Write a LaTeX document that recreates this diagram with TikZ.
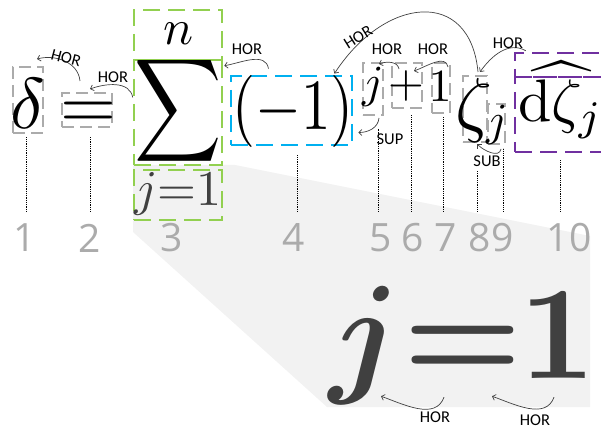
\documentclass[tikz,border=0pt]{standalone}
\RequirePackage{amsmath}
\RequirePackage{graphicx}
\RequirePackage{fontspec}
\RequirePackage{tikz}
\usetikzlibrary{arrows.meta}

\newfontfamily\tagfont{Carlito}
\newfontfamily\idxfont{Open Sans}

\definecolor{sumgreen}{HTML}{92D050}
\definecolor{parblue}{HTML}{00B0F0}
\definecolor{hatpurple}{HTML}{7030A0}
\definecolor{boxgray}{HTML}{ABABAB}
\definecolor{idxgray}{HTML}{ABABAB}
\definecolor{relgray}{HTML}{404040}
\definecolor{wedgegray}{HTML}{F2F2F2}

% math set at 10pt and blown up
\newcommand\mainsym[1]{\scalebox{7.2}{$#1$}}
\newcommand\limsym[1]{\scalebox{5.0}{$#1$}}
\newcommand\supsym[1]{\scalebox{4.6}{$#1$}}
\newcommand\hatsym[1]{\scalebox{6.0}{$#1$}}
\newcommand\zoomsym[1]{\scalebox{13.3}{\boldmath$#1$}}

\begin{document}
\begin{tikzpicture}[x=1pt, y=-1pt,
        >={Straight Barb[length=3pt,width=6pt]},
        glyph/.style={inner sep=0pt, anchor=base},
        gbox/.style={draw=sumgreen, line width=2.5pt, dash pattern=on 17pt off 8pt, inner sep=0pt},
        bbox/.style={gbox, draw=parblue, line width=2.8pt},
        pbox/.style={gbox, draw=hatpurple},
        sbox/.style={gbox, draw=boxgray, line width=2pt, dash pattern=on 12pt off 6pt},
        rel/.style={->, draw=relgray, line width=0.7pt},
        tag/.style={font=\tagfont\fontsize{16.5}{16.5}\selectfont, inner sep=0pt},
        idx/.style={font=\idxfont\fontsize{39}{39}\selectfont, text=idxgray, inner sep=0pt},
        guide/.style={densely dotted, line width=0.8pt}]
        \useasboundingbox (0,0) rectangle (601,430);
        \clip (0,0) rectangle (601,430);

        % wedge behind the enlarged lower limit
        \fill[wedgegray] (133,165) -- (235,165) -- (590,236) -- (590,407) -- (327,407) -- (133,232) -- cycle;

        % boxes round the symbols
        \node[sbox, minimum width=30pt, minimum height=66pt] (delta) at (28,100) {};
        \node[sbox, minimum width=50pt, minimum height=34pt] (eq) at (87,110) {};
        \node[gbox, minimum width=88pt, minimum height=50pt] (upper) at (178,35) {};
        \node[gbox, minimum width=88pt, minimum height=105pt] (sum) at (178,112.5) {};
        \node[gbox, minimum width=88pt, minimum height=50pt] (lower) at (178,195) {};
        \node[bbox, minimum width=121pt, minimum height=69pt] (blue) at (291.5,110.5) {};
        \node[sbox, minimum width=20pt, minimum height=52pt] (supj) at (373,89) {};
        \node[sbox, minimum width=30pt, minimum height=45pt] (plus) at (407,85.5) {};
        \node[sbox, minimum width=18pt, minimum height=50pt] (one) at (441,88) {};
        \node[sbox, minimum width=24pt, minimum height=66pt] (zeta) at (475,109) {};
        \node[sbox, minimum width=17pt, minimum height=40pt] (subj) at (496.5,124) {};
        \node[pbox, minimum width=130pt, minimum height=24pt] (phat) at (580,65) {};
        \node[pbox, minimum width=130pt, minimum height=75pt] (pbody) at (580,114.5) {};

        % the formula
        \node[glyph] (gdelta) at (28,129) {\mainsym{\delta}};
        \node[glyph] (geq) at (88,129) {\mainsym{=}};
        \node[glyph] (gsum) at (178,129) {\scalebox{6.05}[7.2]{$\displaystyle\sum$}};
        \node[glyph] (gn) at (179,45) {\limsym{n}};
        \node[glyph, text=relgray] (glow) at (178,205) {\limsym{j{=}1}};
        \node[glyph] (gpar) at (293,130) {\scalebox{5.9}[7.2]{$(-1)$}};
        \node[glyph] (gsupj) at (373,98) {\supsym{j}};
        \node[glyph] (gplus) at (406,98) {\supsym{+}};
        \node[glyph] (gone) at (440,102) {\supsym{1}};
        \node[glyph] (gzeta) at (474,129) {\mainsym{\zeta}};
        \node[glyph] (gsubj) at (497,136) {\supsym{j}};
        \node[glyph] (gdz) at (561,122) {\hatsym{\widehat{\mathrm{d}\zeta_j}}};

        % enlarged lower limit
        \node[glyph, text=relgray] (bigj) at (365,378) {\zoomsym{j}};
        \node[glyph, text=relgray] (bigeq) at (463,378) {\zoomsym{=}};
        \node[glyph, text=relgray] (bigone) at (558,378) {\zoomsym{1}};

        % relations
        \draw[rel] ([xshift=-7pt,yshift=11pt]eq.north) to[out=95,in=15] ([xshift=9pt,yshift=7pt]delta.north);
        \draw[rel] ([yshift=15pt]sum.west) to[out=100,in=20] ([xshift=3pt,yshift=3pt]eq.north);
        \draw[rel] ([xshift=-23pt,yshift=6pt]blue.north) to[out=100,in=10] ([xshift=1pt,yshift=-7pt]sum.north east);
        \draw[rel] ([xshift=3pt,yshift=3pt]zeta.north) .. controls +(-8,-85) and +(50,-77) .. ([xshift=-19pt,yshift=1pt]blue.north east);
        \draw[rel] ([xshift=-5pt,yshift=-2pt]supj.south east) to[out=-95,in=0] ([xshift=5pt,yshift=-22pt]blue.east);
        \draw[rel] ([xshift=8pt,yshift=-7pt]plus.north west) to[out=100,in=20] ([xshift=-5pt,yshift=-2pt]supj.north east);
        \draw[rel] ([xshift=-3pt,yshift=-5pt]one.north east) to[out=100,in=20] ([xshift=-9pt,yshift=-9pt]plus.north east);
        \draw[rel] ([xshift=12pt,yshift=1pt]phat.north west) to[out=150,in=55] ([xshift=5pt,yshift=3pt]zeta.north);
        \draw[rel] ([xshift=-5pt,yshift=-4pt]subj.south east) to[out=-100,in=-45] ([xshift=2pt,yshift=-1pt]zeta.south);
        \draw[rel] ([xshift=-19pt,yshift=-19pt]bigeq.south) to[out=-110,in=-20] ([xshift=-82pt,yshift=-18pt]bigeq.south);
        \draw[rel] ([xshift=-4pt,yshift=-19pt]bigone.south) to[out=-110,in=-20] ([xshift=29pt,yshift=-18pt]bigeq.south);

        \node[tag, rotate=-15] (t1) at (66,58) {HOR};
        \node[tag] (t2) at (113,77) {HOR};
        \node[tag] (t3) at (247,49) {HOR};
        \node[tag, rotate=32] (t4) at (358,37) {HOR};
        \node[tag] (t5) at (390,139) {SUP};
        \node[tag] (t6) at (387,49) {HOR};
        \node[tag] (t7) at (433,49) {HOR};
        \node[tag] (t8) at (508,43) {HOR};
        \node[tag] (t9) at (487,161) {SUB};
        \node[tag] (t10) at (435,417) {HOR};
        \node[tag] (t11) at (535,420) {HOR};

        % symbol numbers and guides
        \foreach \i/\x in {1/25, 2/90, 3/172, 4/294, 5/381, 6/413, 7/446, 8/480, 9/503, 10/569}
            \node[idx] (d\i) at (\x,238) {\i};
        \foreach \i/\dx/\len in {1/1/75, 2/0/75, 4/3/57, 5/-3/83, 6/-2/96, 7/-3/95, 8/-3/41, 9/0/63, 10/-9/52}
            \draw[guide] ([xshift=\dx,yshift=12pt]d\i.north) -- ++(0,-\len);
    \end{tikzpicture}
\end{document}
